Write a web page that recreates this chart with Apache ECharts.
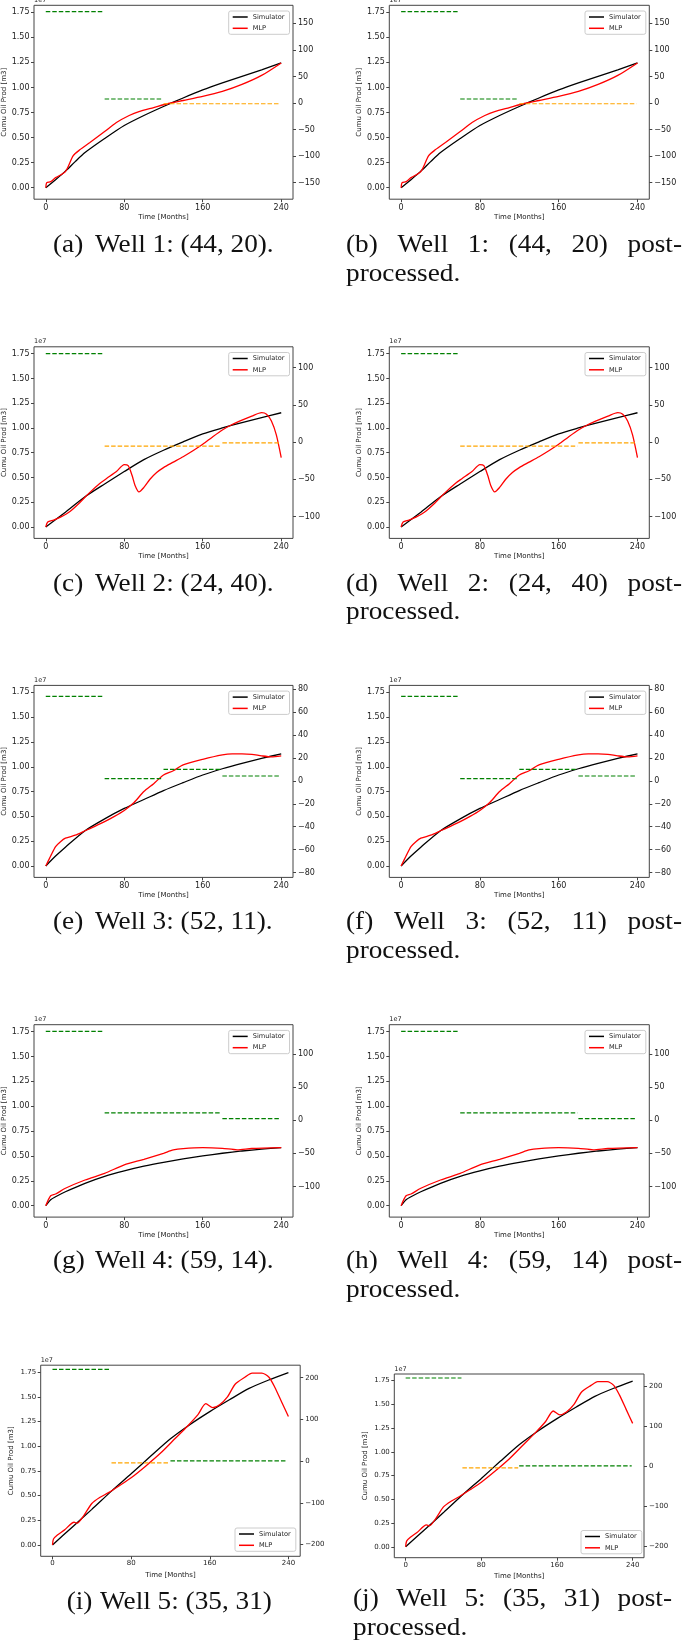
<!DOCTYPE html>
<html>
<head>
<meta charset="utf-8">
<script src="https://cdn.jsdelivr.net/npm/echarts@6/dist/echarts.min.js"></script>
<style>
html, body { margin: 0; padding: 0; background: #fff; }
#main { width: 685px; height: 1642px; }
</style>
</head>
<body>
<div id="main"></div>
<script>
// tick labels
var xTicks = [0, 80, 160, 240];
var leftTicks = [0, 0.25, 0.5, 0.75, 1.0, 1.25, 1.5, 1.75];

// Well 1: (44, 20)
var w1SimMonths = [0, 10, 20, 30, 40, 60, 80, 100, 120, 140, 160, 180, 200, 220, 240];
var w1Sim = [0, 0.08, 0.165, 0.26, 0.35, 0.49, 0.62, 0.72, 0.81, 0.895, 0.975, 1.045, 1.11, 1.175, 1.245];
var w1MlpMonths = [0, 1, 5, 10, 20, 28, 35, 45, 60, 72, 85, 95, 110, 125, 140, 160, 180, 200, 220, 240];
var w1Mlp = [0, 0.05, 0.06, 0.1, 0.16, 0.32, 0.38, 0.45, 0.56, 0.65, 0.72, 0.76, 0.80, 0.84, 0.87, 0.91, 0.96, 1.03, 1.12, 1.245];
var w1ErrStart = [0, 60, 120];
var w1ErrEnd = [59, 119, 239];
var w1Err = [172, 7.6, -1.3];
var w1RightTicks = [-150, -100, -50, 0, 50, 100, 150];

// Well 2: (24, 40)
var w2SimMonths = [0, 20, 40, 60, 80, 100, 120, 140, 160, 180, 200, 220, 240];
var w2Sim = [0, 0.15, 0.306, 0.435, 0.56, 0.68, 0.775, 0.86, 0.94, 1.0, 1.055, 1.105, 1.154];
var w2MlpMonths = [0, 2, 8, 15, 25, 35, 45, 55, 62, 72, 80, 84, 88, 91, 95, 100, 106, 113, 120, 130, 140, 150, 160, 170, 180, 190, 200, 210, 220, 225, 230, 235, 240];
var w2Mlp = [0, 0.05, 0.07, 0.1, 0.16, 0.25, 0.35, 0.44, 0.49, 0.56, 0.63, 0.62, 0.52, 0.42, 0.355, 0.40, 0.48, 0.55, 0.60, 0.655, 0.71, 0.77, 0.835, 0.91, 0.98, 1.035, 1.08, 1.12, 1.155, 1.14, 1.07, 0.93, 0.70];
var w2ErrStart = [0, 60, 180];
var w2ErrEnd = [59, 179, 239];
var w2Err = [118.8, -5.6, -1.1];
var w2RightTicks = [-100, -50, 0, 50, 100];

// Well 3: (52, 11)
var w3SimMonths = [0, 10, 20, 40, 60, 80, 100, 120, 140, 160, 180, 200, 220, 240];
var w3Sim = [0, 0.1, 0.19, 0.356, 0.475, 0.58, 0.67, 0.76, 0.84, 0.917, 0.98, 1.035, 1.085, 1.13];
var w3MlpMonths = [0, 5, 10, 15, 20, 30, 40, 50, 60, 70, 80, 90, 100, 110, 120, 130, 140, 160, 180, 190, 200, 210, 220, 230, 240];
var w3Mlp = [0, 0.1, 0.195, 0.245, 0.28, 0.31, 0.355, 0.40, 0.447, 0.5, 0.56, 0.64, 0.75, 0.83, 0.917, 0.96, 1.018, 1.075, 1.12, 1.13, 1.13, 1.125, 1.11, 1.10, 1.11];
var w3ErrStart = [0, 60, 120, 180];
var w3ErrEnd = [59, 119, 179, 239];
var w3Err = [73.9, 2.0, 10.1, 4.3];
var w3RightTicks = [-80, -60, -40, -20, 0, 20, 40, 60, 80];

// Well 4: (59, 14)
var w4SimMonths = [0, 5, 10, 20, 40, 60, 80, 100, 120, 140, 160, 180, 200, 220, 240];
var w4Sim = [0, 0.06, 0.09, 0.14, 0.225, 0.295, 0.35, 0.397, 0.436, 0.47, 0.5, 0.527, 0.55, 0.568, 0.584];
var w4MlpMonths = [0, 5, 10, 20, 40, 60, 80, 100, 120, 130, 140, 160, 180, 195, 210, 240];
var w4Mlp = [0, 0.10, 0.117, 0.175, 0.258, 0.325, 0.41, 0.466, 0.527, 0.56, 0.574, 0.584, 0.577, 0.562, 0.575, 0.584];
var w4ErrStart = [0, 60, 180];
var w4ErrEnd = [59, 179, 239];
var w4Err = [134, 11, 2.5];
var w4RightTicks = [-100, -50, 0, 50, 100];

// Well 5: (35, 31)
var w5SimMonths = [0, 20, 40, 60, 80, 100, 120, 140, 160, 180, 200, 220, 240];
var w5Sim = [0, 0.18, 0.36, 0.545, 0.72, 0.9, 1.075, 1.22, 1.35, 1.47, 1.585, 1.67, 1.745];
var w5MlpMonths = [0, 1, 5, 12, 22, 25, 32, 40, 48, 57, 68, 80, 95, 110, 125, 137, 148, 156, 163, 170, 178, 186, 196, 203, 213, 220, 226, 233, 240];
var w5Mlp = [0, 0.06, 0.1, 0.15, 0.23, 0.22, 0.3, 0.42, 0.48, 0.53, 0.6, 0.68, 0.8, 0.93, 1.08, 1.2, 1.32, 1.43, 1.39, 1.42, 1.5, 1.63, 1.7, 1.74, 1.74, 1.7, 1.6, 1.45, 1.30];
var w5ErrStart = [0, 60, 120];
var w5ErrEnd = [59, 119, 239];
var w5Err = [220, -4, 0.8];
var w5RightTicks = [-200, -100, 0, 100, 200];

var wells = [
    { simX: w1SimMonths, sim: w1Sim, mlpX: w1MlpMonths, mlp: w1Mlp, e0: w1ErrStart, e1: w1ErrEnd, err: w1Err, rTicks: w1RightTicks, rMin: -181, rMax: 184 },
    { simX: w2SimMonths, sim: w2Sim, mlpX: w2MlpMonths, mlp: w2Mlp, e0: w2ErrStart, e1: w2ErrEnd, err: w2Err, rTicks: w2RightTicks, rMin: -129.5, rMax: 128 },
    { simX: w3SimMonths, sim: w3Sim, mlpX: w3MlpMonths, mlp: w3Mlp, e0: w3ErrStart, e1: w3ErrEnd, err: w3Err, rTicks: w3RightTicks, rMin: -84.3, rMax: 83.5 },
    { simX: w4SimMonths, sim: w4Sim, mlpX: w4MlpMonths, mlp: w4Mlp, e0: w4ErrStart, e1: w4ErrEnd, err: w4Err, rTicks: w4RightTicks, rMin: -146, rMax: 144 },
    { simX: w5SimMonths, sim: w5Sim, mlpX: w5MlpMonths, mlp: w5Mlp, e0: w5ErrStart, e1: w5ErrEnd, err: w5Err, rTicks: w5RightTicks, rMin: -228, rMax: 230 }
];

// panel boxes (px)
var rowTops = [5.3, 346.8, 685.4, 1024.7];
var rowHeights = [193.9, 191.6, 192, 192.4];
var panels = [];
for (var r = 0; r < 4; r++) {
    panels.push({ well: r, left: 34, top: rowTops[r], width: 259, height: rowHeights[r], fs: 8, legendPos: 'top' });
    panels.push({ well: r, left: 389.3, top: rowTops[r], width: 260, height: rowHeights[r], fs: 8, legendPos: 'top' });
}
panels.push({ well: 4, left: 40.7, top: 1365.2, width: 259.5, height: 191.1, fs: 7, legendPos: 'bottom', legLeft: 235, legTop: 1528 });
panels.push({ well: 4, left: 394.3, top: 1374, width: 249.7, height: 183.7, fs: 7, legendPos: 'bottom', legLeft: 581, legTop: 1530.5 });

var FONT = 'DejaVu Sans';
var TXT = '#222';
var FRAME = '#444';

function pairs(xs, ys) {
    return xs.map(function (x, i) { return [x, ys[i]]; });
}
function minusFmt(v) {
    return v < 0 ? '\u2212' + Math.abs(v) : String(v);
}

var grids = [], xAxes = [], yAxes = [], series = [], legends = [], graphics = [];

panels.forEach(function (p, i) {
    var w = wells[p.well];
    grids.push({
        left: p.left, top: p.top, width: p.width, height: p.height,
        show: true, borderColor: FRAME, borderWidth: 1, backgroundColor: 'transparent',
        outerBoundsMode: 'none', containLabel: false
    });
    xAxes.push({
        gridIndex: i, type: 'value', min: -12, max: 252, position: 'bottom',
        axisLine: { show: false, onZero: false },
        splitLine: { show: false },
        axisTick: { length: 3, lineStyle: { color: FRAME }, customValues: xTicks },
        axisLabel: { customValues: xTicks, fontSize: p.fs, fontFamily: FONT, color: TXT, margin: p.well === 4 ? 3.5 : 5 },
        name: 'Time [Months]', nameLocation: 'middle', nameGap: p.well === 4 ? 15 : 14.5,
        nameTextStyle: { fontSize: 7, fontFamily: FONT, color: TXT }
    });
    yAxes.push({
        gridIndex: i, type: 'value', position: 'left', min: -0.115, max: 1.82,
        axisLine: { show: false, onZero: false },
        splitLine: { show: false },
        axisTick: { length: 3, lineStyle: { color: FRAME }, customValues: leftTicks },
        axisLabel: {
            customValues: leftTicks, fontSize: p.fs, fontFamily: FONT, color: TXT, margin: 4.5,
            formatter: function (v) { return v.toFixed(2); }
        },
        name: 'Cumu Oil Prod [m3]', nameLocation: 'middle', nameRotate: 90, nameGap: 26,
        nameTextStyle: { fontSize: 7, fontFamily: FONT, color: TXT }
    });
    yAxes.push({
        gridIndex: i, type: 'value', position: 'right', min: w.rMin, max: w.rMax,
        axisLine: { show: false, onZero: false },
        splitLine: { show: false },
        axisTick: { length: 3, lineStyle: { color: FRAME }, customValues: w.rTicks },
        axisLabel: { customValues: w.rTicks, fontSize: p.fs, fontFamily: FONT, color: TXT, margin: 5, formatter: minusFmt }
    });

    series.push({
        type: 'line', name: 'Simulator', xAxisIndex: i, yAxisIndex: 2 * i,
        data: pairs(w.simX, w.sim), showSymbol: false, smooth: 0.25,
        lineStyle: { color: '#000', width: 1.3 }, itemStyle: { color: '#000' }, z: 3, silent: true
    });
    series.push({
        type: 'line', name: 'MLP', xAxisIndex: i, yAxisIndex: 2 * i,
        data: pairs(w.mlpX, w.mlp), showSymbol: false, smooth: 0.25,
        lineStyle: { color: '#ff0000', width: 1.3 }, itemStyle: { color: '#ff0000' }, z: 4, silent: true
    });
    w.err.forEach(function (v, k) {
        var c = v >= 0 ? '#008000' : '#ffa500';
        series.push({
            type: 'line', name: 'err', xAxisIndex: i, yAxisIndex: 2 * i + 1,
            data: [[w.e0[k], v], [w.e1[k], v]], showSymbol: false,
            lineStyle: { color: c, width: 1.2, type: [4.5, 2] }, itemStyle: { color: c }, z: 5, silent: true
        });
    });

    var legLeft = p.legendPos === 'top' ? p.left + p.width - 64.3 : p.legLeft;
    var legTop = p.legendPos === 'top' ? p.top + 5.7 : p.legTop;
    legends.push({
        data: ['Simulator', 'MLP'], left: legLeft, top: legTop, orient: 'vertical',
        icon: 'rect', itemWidth: 15, itemHeight: 1.5, itemGap: 3.3,
        padding: [2, 5, 2, 4], backgroundColor: 'rgba(255,255,255,0.8)',
        borderColor: '#cccccc', borderWidth: 1, borderRadius: 2, selectedMode: false,
        textStyle: { fontSize: 6.6, fontFamily: FONT, color: TXT, lineHeight: 8 }, z: 10
    });

    graphics.push({
        type: 'text', x: p.left, y: p.top - 5,
        style: { text: '1e7', fontSize: 6.5, fontFamily: FONT, fill: TXT, align: 'left', verticalAlign: 'middle' }
    });
});

// captions
var CAP_FONT_SIZE = 25;
var CAP_FAMILY = 'Liberation Serif';
var CAP_SCALE_X = 1.09;
var measureCtx = document.createElement('canvas').getContext('2d');
function textWidth(s) {
    measureCtx.font = CAP_FONT_SIZE + 'px "' + CAP_FAMILY + '"';
    return measureCtx.measureText(s).width * CAP_SCALE_X;
}
function capText(s, x, baseline, align) {
    graphics.push({
        type: 'text', x: x, y: baseline - 8.4, scaleX: CAP_SCALE_X,
        style: { text: s, fontSize: CAP_FONT_SIZE, fontFamily: CAP_FAMILY, fill: '#111', align: align, verticalAlign: 'middle' }
    });
}

var rowBase = [254, 592.7, 931.3, 1270];
var leftCaps = [
    ['(a)', 'Well 1: (44, 20).'],
    ['(c)', 'Well 2: (24, 40).'],
    ['(e)', 'Well 3: (52, 11).'],
    ['(g)', 'Well 4: (59, 14).']
];
var rightCaps = [
    ['(b)', 'Well', '1:', '(44,', '20)', 'post-'],
    ['(d)', 'Well', '2:', '(24,', '40)', 'post-'],
    ['(f)', 'Well', '3:', '(52,', '11)', 'post-'],
    ['(h)', 'Well', '4:', '(59,', '14)', 'post-']
];

function justified(words, x0, x1, baseline) {
    var total = 0;
    words.forEach(function (s) { total += textWidth(s); });
    var gap = (x1 - x0 - total) / (words.length - 1);
    var x = x0;
    words.forEach(function (s) {
        capText(s, x, baseline, 'left');
        x += textWidth(s) + gap;
    });
}

for (var k = 0; k < 4; k++) {
    capText(leftCaps[k][0], 53, rowBase[k], 'left');
    capText(leftCaps[k][1], 95, rowBase[k], 'left');
    justified(rightCaps[k], 346, 682, rowBase[k]);
    capText('processed.', 346, rowBase[k] + 28.4, 'left');
}
capText('(i)', 66.7, 1611, 'left');
capText('Well 5: (35, 31)', 100, 1611, 'left');
justified(['(j)', 'Well', '5:', '(35,', '31)', 'post-'], 353, 672, 1608.3);
capText('processed.', 353, 1636.7, 'left');

var chart = echarts.init(document.getElementById('main'), null, { renderer: 'canvas' });
chart.setOption({
    animation: false,
    backgroundColor: '#fff',
    grid: grids,
    xAxis: xAxes,
    yAxis: yAxes,
    legend: legends,
    series: series,
    graphic: graphics
});
</script>
</body>
</html>
